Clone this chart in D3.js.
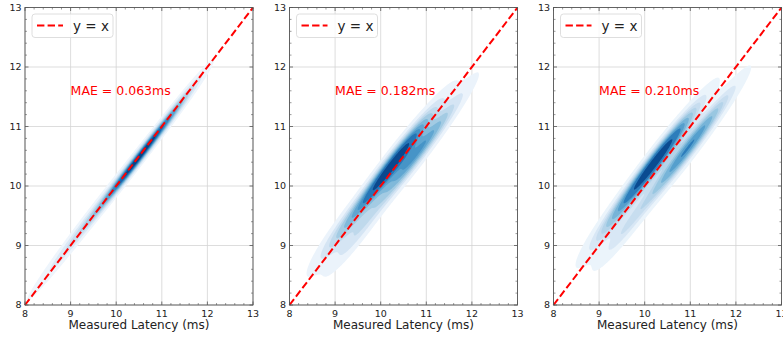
<!DOCTYPE html>
<html>
<head>
<meta charset="utf-8">
<script src="https://cdn.jsdelivr.net/npm/d3@7"></script>
<style>
  html, body { margin: 0; padding: 0; background: #fff; }
  svg { display: block; font-family: "DejaVu Sans", sans-serif; }
</style>
</head>
<body>
<svg id="chart" width="783" height="343"></svg>
<script>
// Axis range and tick labels (ms)
const axisDomain = [8, 13];
const majorTicks = [8, 9, 10, 11, 12, 13];
const minorStep = 0.2;

// One entry per panel
const panelNames = ["model A", "model B", "model C"];
const maeValues = [0.063, 0.182, 0.210];

// Density components of each panel's predicted-vs-measured latency cloud:
// centre (x, y) in ms, spread along / across the diagonal, and relative weight.
const compCx     = [[10.5, 9.4, 11.3],      [10.24, 10.8, 9.1, 9.45],   [10.22, 10.95, 9.2, 9.55]];
const compCy     = [[10.48, 9.43, 11.28],   [10.35, 10.55, 9.2, 9.15],  [10.4, 10.64, 9.32, 9.25]];
const compAlong  = [[0.75, 1.0, 0.6],       [0.85, 0.9, 0.6, 0.6],      [0.85, 0.9, 0.6, 0.6]];
const compAcross = [[0.055, 0.068, 0.06],   [0.1, 0.1, 0.12, 0.1],      [0.1, 0.1, 0.12, 0.1]];
const compWeight = [[0.55, 0.3, 0.15],      [0.5, 0.33, 0.1, 0.07],     [0.5, 0.35, 0.08, 0.07]];

const panelLeft = [25, 289.5, 553.5];
const panelW = 228;
const plotTop = 7.5, plotBottom = 305;

const svg = d3.select("#chart");

// Iso-proportion contour levels (share of mass outside each level)
const levelProps = d3.range(10).map(i => 0.05 + i * (0.95 / 9));

function densityGrid(p, x0, x1, step) {
  const n = Math.round((x1 - x0) / step) + 1;
  const vals = new Float64Array(n * n);
  const c = Math.SQRT1_2;
  for (let j = 0; j < n; j++) {
    const yv = x0 + j * step;
    for (let i = 0; i < n; i++) {
      const xv = x0 + i * step;
      let d = 0;
      for (let k = 0; k < compCx[p].length; k++) {
        const dx = xv - compCx[p][k], dy = yv - compCy[p][k];
        const u = (dx + dy) * c, v = (dy - dx) * c;
        const su = compAlong[p][k], sv = compAcross[p][k];
        d += compWeight[p][k] / (su * sv) * Math.exp(-0.5 * (u * u / (su * su) + v * v / (sv * sv)));
      }
      vals[j * n + i] = d;
    }
  }
  return { n, vals };
}

function isoLevels(vals) {
  const sorted = Array.from(vals).sort((a, b) => b - a);
  const total = d3.sum(sorted);
  const cum = [];
  let s = 0;
  for (const v of sorted) { s += v; cum.push(s / total); }
  return levelProps.map(q => {
    const idx = d3.bisectLeft(cum, 1 - q);
    return sorted[Math.min(idx, sorted.length - 1)];
  });
}

panelNames.forEach((name, p) => {
  const x = d3.scaleLinear().domain(axisDomain).range([panelLeft[p], panelLeft[p] + panelW]);
  const y = d3.scaleLinear().domain(axisDomain).range([plotBottom, plotTop]);
  const g = svg.append("g");

  const clipId = "clip" + p;
  svg.append("clipPath").attr("id", clipId)
    .append("rect").attr("x", x.range()[0]).attr("y", plotTop)
    .attr("width", panelW).attr("height", plotBottom - plotTop);

  // grid
  const grid = g.append("g");
  majorTicks.forEach(t => {
    grid.append("line").attr("x1", x(t)).attr("x2", x(t)).attr("y1", plotTop).attr("y2", plotBottom)
      .attr("stroke", "#d4d4d4").attr("stroke-width", 0.8);
    grid.append("line").attr("y1", y(t)).attr("y2", y(t)).attr("x1", x.range()[0]).attr("x2", x.range()[1])
      .attr("stroke", "#d4d4d4").attr("stroke-width", 0.8);
  });

  // filled density contours
  const gx0 = 6.5, gx1 = 14.5, step = 0.02;
  const { n, vals } = densityGrid(p, gx0, gx1, step);
  const levels = isoLevels(vals);
  const lo = levels[0], hi = levels[levels.length - 1];
  const contours = d3.contours().size([n, n]).thresholds(levels.slice(0, -1))(vals);
  const toPx = d3.geoTransform({
    point: function (gx, gy) {
      this.stream.point(x(gx0 + (gx - 0.5) * step), y(gx0 + (gy - 0.5) * step));
    }
  });
  const path = d3.geoPath(toPx);
  g.append("g").attr("clip-path", `url(#${clipId})`)
    .selectAll("path").data(contours).join("path")
    .attr("d", path)
    .attr("fill", (c, i) => {
      const mid = (levels[i] + levels[i + 1]) / 2;
      return d3.interpolateBlues((mid - lo) / (hi - lo));
    })
    .attr("stroke", "none");

  // y = x reference line
  g.append("line")
    .attr("x1", x(axisDomain[0])).attr("y1", y(axisDomain[0]))
    .attr("x2", x(axisDomain[1])).attr("y2", y(axisDomain[1]))
    .attr("stroke", "#ff0000").attr("stroke-width", 2)
    .attr("stroke-dasharray", "7.4,3.2");

  // frame with inward ticks on all sides
  const axisColor = "#555";
  const minorTicks = d3.range(axisDomain[0], axisDomain[1] + 1e-9, minorStep)
    .filter(t => Math.abs(t - Math.round(t)) > 1e-6);
  const ax = g.append("g");
  const tickLine = (x1, y1, x2, y2, w) => ax.append("line")
    .attr("x1", x1).attr("y1", y1).attr("x2", x2).attr("y2", y2)
    .attr("stroke", axisColor).attr("stroke-width", w);
  majorTicks.forEach(t => {
    tickLine(x(t), plotBottom, x(t), plotBottom - 3.5, 0.8);
    tickLine(x(t), plotTop, x(t), plotTop + 3.5, 0.8);
    tickLine(x.range()[0], y(t), x.range()[0] + 3.5, y(t), 0.8);
    tickLine(x.range()[1], y(t), x.range()[1] - 3.5, y(t), 0.8);
  });
  minorTicks.forEach(t => {
    tickLine(x(t), plotBottom, x(t), plotBottom - 2, 0.6);
    tickLine(x(t), plotTop, x(t), plotTop + 2, 0.6);
    tickLine(x.range()[0], y(t), x.range()[0] + 2, y(t), 0.6);
    tickLine(x.range()[1], y(t), x.range()[1] - 2, y(t), 0.6);
  });
  ax.append("rect").attr("x", x.range()[0]).attr("y", plotTop)
    .attr("width", panelW).attr("height", plotBottom - plotTop)
    .attr("fill", "none").attr("stroke", axisColor).attr("stroke-width", 0.9);

  // tick labels
  majorTicks.forEach(t => {
    ax.append("text").attr("x", x(t)).attr("y", plotBottom + 11.5)
      .attr("text-anchor", "middle").attr("font-size", 9.5).attr("fill", "#222").text(t);
    ax.append("text").attr("x", x.range()[0] - 3.5).attr("y", y(t) + 3.4)
      .attr("text-anchor", "end").attr("font-size", 9.5).attr("fill", "#222").text(t);
  });

  // axis label
  g.append("text").attr("x", x.range()[0] + panelW / 2).attr("y", 329)
    .attr("text-anchor", "middle").attr("font-size", 12).attr("fill", "#222")
    .text("Measured Latency (ms)");

  // MAE annotation
  g.append("text").attr("x", x(9)).attr("y", y(11.58))
    .attr("dominant-baseline", "middle").attr("font-size", 12.5).attr("fill", "#ff0000")
    .text(`MAE = ${maeValues[p].toFixed(3)}ms`);

  // legend
  const lg = g.append("g").attr("transform", `translate(${x.range()[0] + 7},14)`);
  lg.append("rect").attr("width", 81).attr("height", 23.5).attr("rx", 3)
    .attr("fill", "#fff").attr("fill-opacity", 0.8).attr("stroke", "#d6d6d6").attr("stroke-width", 0.8);
  lg.append("line").attr("x1", 5).attr("x2", 31).attr("y1", 11.5).attr("y2", 11.5)
    .attr("stroke", "#ff0000").attr("stroke-width", 2).attr("stroke-dasharray", "7.4,3.2");
  lg.append("text").attr("x", 41).attr("y", 16.5).attr("font-size", 13.5).attr("fill", "#222").text("y = x");
});
</script>
</body>
</html>
